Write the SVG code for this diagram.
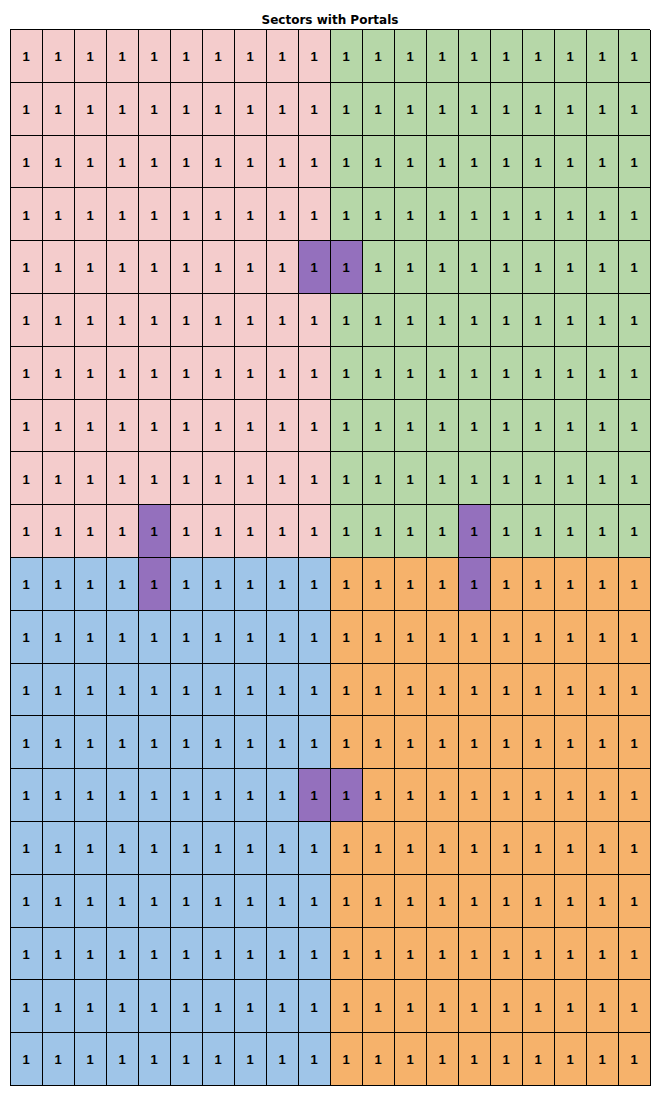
<svg xmlns="http://www.w3.org/2000/svg" width="667" height="1105" viewBox="0 0 667 1105">
<style>
.t{font-family:"Liberation Sans",Arial,sans-serif;font-weight:bold;font-size:13px;fill:#000;text-anchor:middle}
.title{font-family:"DejaVu Sans",sans-serif;font-weight:bold;font-size:12px;fill:#000;text-anchor:middle}
.portal{fill:#9470bd}
.grid{fill:none;stroke:#000;stroke-width:1;shape-rendering:crispEdges}
</style>
<rect width="667" height="1105" fill="#fff"/>
<text id="title" class="title" x="330" y="24">Sectors with Portals</text>
<g id="sector-top-left">
<rect x="10" y="29.5" width="320" height="528" fill="#f4cccc"/>
<rect class="portal" x="298" y="240.7" width="32" height="52.8"/>
<rect class="portal" x="138" y="504.7" width="32" height="52.8"/>
</g>
<g id="sector-top-right">
<rect x="330" y="29.5" width="320" height="528" fill="#b6d7a8"/>
<rect class="portal" x="330" y="240.7" width="32" height="52.8"/>
<rect class="portal" x="458" y="504.7" width="32" height="52.8"/>
</g>
<g id="sector-bottom-left">
<rect x="10" y="557.5" width="320" height="528" fill="#9fc5e8"/>
<rect class="portal" x="138" y="557.5" width="32" height="52.8"/>
<rect class="portal" x="298" y="768.7" width="32" height="52.8"/>
</g>
<g id="sector-bottom-right">
<rect x="330" y="557.5" width="320" height="528" fill="#f6b26b"/>
<rect class="portal" x="458" y="557.5" width="32" height="52.8"/>
<rect class="portal" x="330" y="768.7" width="32" height="52.8"/>
</g>
<g id="connectors">
<path class="grid" d="M10 29.5V1085.5M42 29.5V1085.5M74 29.5V1085.5M106 29.5V1085.5M138 29.5V1085.5M170 29.5V1085.5M202 29.5V1085.5M234 29.5V1085.5M266 29.5V1085.5M298 29.5V1085.5M330 29.5V1085.5M362 29.5V1085.5M394 29.5V1085.5M426 29.5V1085.5M458 29.5V1085.5M490 29.5V1085.5M522 29.5V1085.5M554 29.5V1085.5M586 29.5V1085.5M618 29.5V1085.5M650 29.5V1085.5
M10 29.5H650M10 82.3H650M10 135.1H650M10 187.9H650M10 240.7H650M10 293.5H650M10 346.3H650M10 399.1H650M10 451.9H650M10 504.7H650M10 557.5H650M10 610.3H650M10 663.1H650M10 715.9H650M10 768.7H650M10 821.5H650M10 874.3H650M10 927.1H650M10 979.9H650M10 1032.7H650M10 1085.5H650"/>
</g>
<g id="labels-top-left">
<text class="t" x="26 58 90 122 154 186 218 250 282 314" y="61.2">1111111111</text>
<text class="t" x="26 58 90 122 154 186 218 250 282 314" y="114">1111111111</text>
<text class="t" x="26 58 90 122 154 186 218 250 282 314" y="166.8">1111111111</text>
<text class="t" x="26 58 90 122 154 186 218 250 282 314" y="219.6">1111111111</text>
<text class="t" x="26 58 90 122 154 186 218 250 282 314" y="272.4">1111111111</text>
<text class="t" x="26 58 90 122 154 186 218 250 282 314" y="325.2">1111111111</text>
<text class="t" x="26 58 90 122 154 186 218 250 282 314" y="378">1111111111</text>
<text class="t" x="26 58 90 122 154 186 218 250 282 314" y="430.8">1111111111</text>
<text class="t" x="26 58 90 122 154 186 218 250 282 314" y="483.6">1111111111</text>
<text class="t" x="26 58 90 122 154 186 218 250 282 314" y="536.4">1111111111</text>
</g>
<g id="labels-top-right">
<text class="t" x="346 378 410 442 474 506 538 570 602 634" y="61.2">1111111111</text>
<text class="t" x="346 378 410 442 474 506 538 570 602 634" y="114">1111111111</text>
<text class="t" x="346 378 410 442 474 506 538 570 602 634" y="166.8">1111111111</text>
<text class="t" x="346 378 410 442 474 506 538 570 602 634" y="219.6">1111111111</text>
<text class="t" x="346 378 410 442 474 506 538 570 602 634" y="272.4">1111111111</text>
<text class="t" x="346 378 410 442 474 506 538 570 602 634" y="325.2">1111111111</text>
<text class="t" x="346 378 410 442 474 506 538 570 602 634" y="378">1111111111</text>
<text class="t" x="346 378 410 442 474 506 538 570 602 634" y="430.8">1111111111</text>
<text class="t" x="346 378 410 442 474 506 538 570 602 634" y="483.6">1111111111</text>
<text class="t" x="346 378 410 442 474 506 538 570 602 634" y="536.4">1111111111</text>
</g>
<g id="labels-bottom-left">
<text class="t" x="26 58 90 122 154 186 218 250 282 314" y="589.2">1111111111</text>
<text class="t" x="26 58 90 122 154 186 218 250 282 314" y="642">1111111111</text>
<text class="t" x="26 58 90 122 154 186 218 250 282 314" y="694.8">1111111111</text>
<text class="t" x="26 58 90 122 154 186 218 250 282 314" y="747.6">1111111111</text>
<text class="t" x="26 58 90 122 154 186 218 250 282 314" y="800.4">1111111111</text>
<text class="t" x="26 58 90 122 154 186 218 250 282 314" y="853.2">1111111111</text>
<text class="t" x="26 58 90 122 154 186 218 250 282 314" y="906">1111111111</text>
<text class="t" x="26 58 90 122 154 186 218 250 282 314" y="958.8">1111111111</text>
<text class="t" x="26 58 90 122 154 186 218 250 282 314" y="1011.6">1111111111</text>
<text class="t" x="26 58 90 122 154 186 218 250 282 314" y="1064.4">1111111111</text>
</g>
<g id="labels-bottom-right">
<text class="t" x="346 378 410 442 474 506 538 570 602 634" y="589.2">1111111111</text>
<text class="t" x="346 378 410 442 474 506 538 570 602 634" y="642">1111111111</text>
<text class="t" x="346 378 410 442 474 506 538 570 602 634" y="694.8">1111111111</text>
<text class="t" x="346 378 410 442 474 506 538 570 602 634" y="747.6">1111111111</text>
<text class="t" x="346 378 410 442 474 506 538 570 602 634" y="800.4">1111111111</text>
<text class="t" x="346 378 410 442 474 506 538 570 602 634" y="853.2">1111111111</text>
<text class="t" x="346 378 410 442 474 506 538 570 602 634" y="906">1111111111</text>
<text class="t" x="346 378 410 442 474 506 538 570 602 634" y="958.8">1111111111</text>
<text class="t" x="346 378 410 442 474 506 538 570 602 634" y="1011.6">1111111111</text>
<text class="t" x="346 378 410 442 474 506 538 570 602 634" y="1064.4">1111111111</text>
</g>
</svg>
